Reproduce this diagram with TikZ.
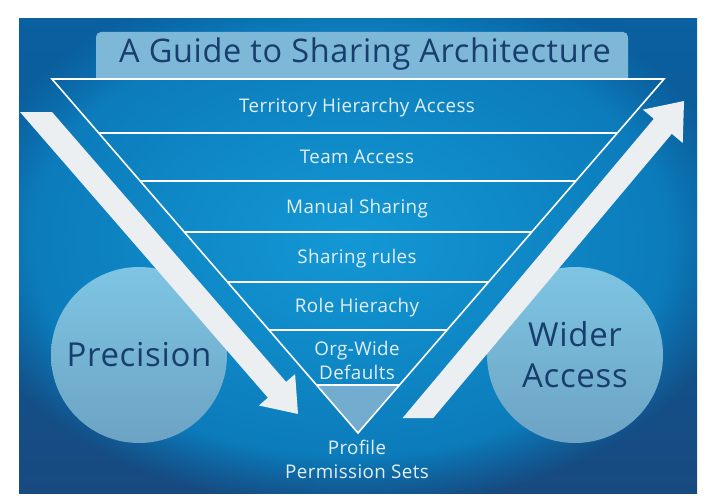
\documentclass[tikz,border=0pt]{standalone}
\usepackage{fontspec}
\setmainfont{Open Sans}
\newfontfamily\wideFont[LetterSpace=2]{Open Sans}
\usetikzlibrary{positioning,fadings}

\definecolor{panelTop}{HTML}{0A60A0}
\definecolor{panelMid}{HTML}{0A74B4}
\definecolor{panelBottom}{HTML}{174A80}
\definecolor{glowBlue}{HTML}{1398D5}
\definecolor{paleBlue}{HTML}{7EB8D8}
\definecolor{bubbleTop}{HTML}{7EC5E3}
\definecolor{bubbleBottom}{HTML}{6DA3C4}
\definecolor{inkNavy}{HTML}{173E6C}
\definecolor{arrowWhite}{HTML}{ECEFF1}
\definecolor{labelWhite}{HTML}{E4EEF5}
\definecolor{tipBlue}{HTML}{72ACCE}

\begin{document}
\begin{tikzpicture}[x=1pt, y=-1pt,
    layer/.style={draw=white, line width=1.6pt, line join=miter},
    band/.style={text=labelWhite, font=\wideFont\fontsize{18.8}{24}\selectfont, align=center, inner sep=0pt},
    heading/.style={text=inkNavy, font=\wideFont\fontsize{32.5}{36}\selectfont, inner sep=0pt},
    bubble/.style={circle, minimum size=176pt, inner sep=0pt, top color=bubbleTop,
                   bottom color=bubbleBottom, text=inkNavy, align=center,
                   font=\wideFont\fontsize{33}{41}\selectfont},
    bigarrow/.style={fill=arrowWhite}]
      \useasboundingbox (0,0) rectangle (708,500);

      \shade[top color=panelTop, middle color=panelMid, bottom color=panelBottom] (19,19) rectangle (697,493);
      \begin{scope}
        \clip (19,19) rectangle (697,493);
        \shade[inner color=glowBlue, outer color=panelMid, path fading=circle with fuzzy edge 20 percent]
          (350,240) ellipse (400 and 270);
      \end{scope}

      \fill[paleBlue, rounded corners=5pt] (96,79) -- (96,32) -- (628,32) -- (628,79);
      \node[heading, anchor=base] (title) at (365,63) {A Guide to Sharing Architecture};

      \coordinate (tl)  at (52,   79);
      \coordinate (tr)  at (664,  79);
      \coordinate (tip) at (358, 433);

      \coordinate (l1) at (98.7,  133);  \coordinate (r1) at (617.3, 133);
      \coordinate (l2) at (140.2, 181);  \coordinate (r2) at (575.8, 181);
      \coordinate (l3) at (184.3, 232);  \coordinate (r3) at (531.7, 232);
      \coordinate (l4) at (227.5, 282);  \coordinate (r4) at (488.5, 282);
      \coordinate (l5) at (269.0, 330);  \coordinate (r5) at (447.0, 330);
      \coordinate (l6) at (316.5, 385);  \coordinate (r6) at (399.5, 385);

      \fill[tipBlue] (l6) -- (r6) -- (tip) -- cycle;
      \draw[layer] (tl) -- (tr) -- (tip) -- cycle;
      \draw[layer] (l1) -- (r1) (l2) -- (r2) (l3) -- (r3);
      \draw[layer] (l4) -- (r4) (l5) -- (r5) (l6) -- (r6);

      \node[band, anchor=base] (territory) at (357, 113) {Territory Hierarchy Access};
      \node[band, anchor=base] (team)      at (357, 163) {Team Access};
      \node[band, anchor=base] (manual)    at (357, 213) {Manual Sharing};
      \node[band, anchor=base] (rules)     at (357, 263) {Sharing rules};
      \node[band, anchor=base] (role)      at (357, 312) {Role Hierachy};
      \node[band]              (owd)       at (357, 360) {Org-Wide\\Defaults};
      \node[band]              (profile)   at (357, 459) {Profile\\Permission Sets};

      \node[bubble] (precision) at (139, 355) {Precision};
      \node[bubble] (wider)     at (575, 355) {Wider\\Access};

      \fill[bigarrow] (20,112) -- (52,112) -- (286.1,381.9) -- (295.1,374.1)
        -- (298,414) -- (258.9,405.5) -- (267.9,397.7) -- cycle;
      \fill[bigarrow] (402.6,418) -- (653.8,118.8) -- (642.9,109.6) -- (684,101)
        -- (682.7,143) -- (671.8,133.8) -- (433.2,418) -- cycle;
\end{tikzpicture}
\end{document}
